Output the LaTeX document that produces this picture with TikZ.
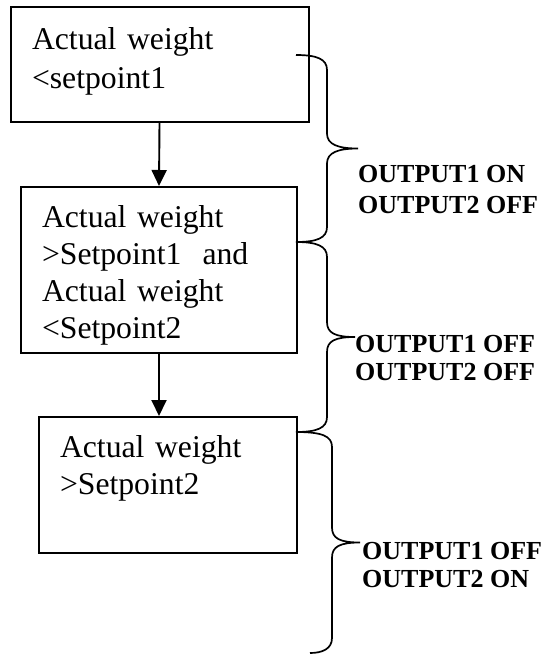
\documentclass[tikz,border=0pt]{standalone}
\usepackage{fontspec}
\setmainfont{Liberation Serif}
\usetikzlibrary{arrows.meta}

% curly brace: top x, bottom x, stem x, tip x, top y, bottom y
\newcommand{\outbrace}[6]{%
  \pgfmathsetmacro{\ymid}{(#5+#6)/2}
  \draw[bracel] (#1,#5) .. controls (#3-10,#5) and (#3,#5+4) .. (#3,#5+15)
    -- (#3,\ymid-15) .. controls (#3,\ymid-4) and (#4-20,\ymid) .. (#4,\ymid)
    .. controls (#4-20,\ymid) and (#3,\ymid+4) .. (#3,\ymid+15)
    -- (#3,#6-15) .. controls (#3,#6-4) and (#3-10,#6) .. (#2,#6);
}

\begin{document}
\begin{tikzpicture}[x=1pt, y=-1pt,
    condbox/.style={draw, line width=2pt, inner ysep=0pt, inner xsep=21pt,
      align=left, anchor=north west, font=\fontsize{31.7}{37}\selectfont},
    outlabel/.style={inner sep=0pt, anchor=base west, align=left,
      font=\bfseries\fontsize{26}{28}\selectfont},
    bracel/.style={line width=1.7pt},
    flow/.style={line width=1.9pt, -{Triangle[length=16pt,width=15pt]}}]

	\useasboundingbox (0,0) rectangle (551,659);

	% condition boxes
	\node[condbox, text width=255pt, text height=42pt, text depth=73pt, inner xsep=21.5pt,
	  font=\fontsize{31.7}{39}\selectfont] (b1) at (9.5,6) {Actual weight\\<setpoint1};
	\node[condbox, text width=234pt, text height=40pt, text depth=126pt] (b2) at (20,186)
	  {Actual weight\\>Setpoint1~ and\\Actual weight\\<Setpoint2};
	\node[condbox, text width=216pt, text height=40pt, text depth=96pt] (b3) at (38,416)
	  {Actual weight\\>Setpoint2};

	\draw[flow] (b1.south) -- (b2.north);
	\draw[flow] (b2.south) -- (b2.south |- b3.north);

	% braces and outputs
	\outbrace{296}{296}{327}{358}{55}{242}
	\outbrace{296}{296}{327}{355}{242}{432}
	\outbrace{296}{310}{332}{360}{432}{653}

	\node[outlabel] (o1) at (358,213) {OUTPUT1 ON\\[3pt]OUTPUT2 OFF};
	\node[outlabel] (o2) at (355,380) {OUTPUT1 OFF\\OUTPUT2 OFF};
	\node[outlabel] (o3) at (362,587) {OUTPUT1 OFF\\OUTPUT2 ON};
\end{tikzpicture}
\end{document}
